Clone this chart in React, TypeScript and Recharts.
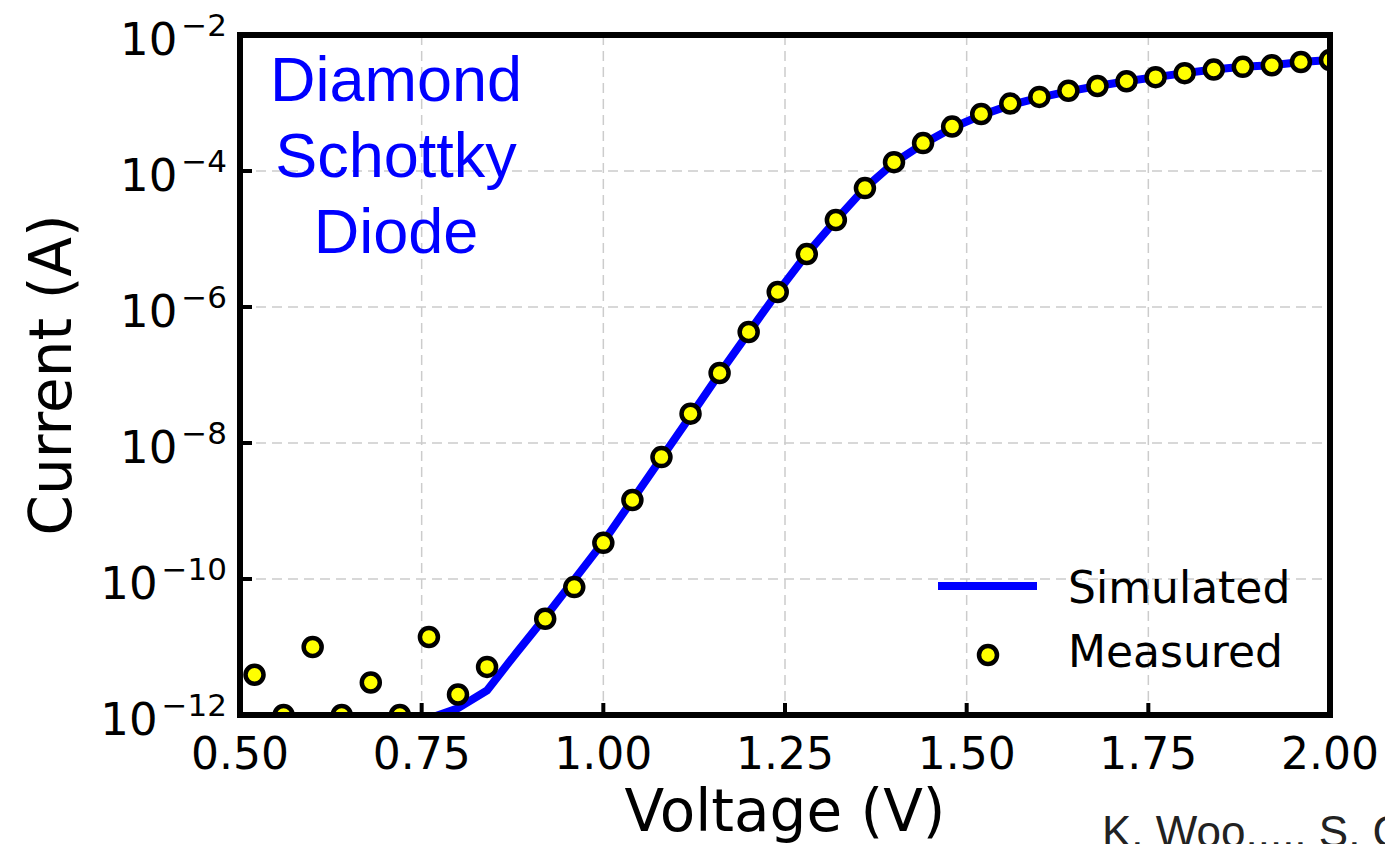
import React from "react";
import { CartesianGrid, ComposedChart, Line, Scatter, XAxis, YAxis } from "recharts";

// voltage grid (V) shared by both series
const simVoltage = [
  0.52, 0.56, 0.6, 0.64, 0.68, 0.72, 0.76, 0.8, 0.84, 0.88, 0.92, 0.96, 1.0, 1.04, 1.08, 1.12, 1.16, 1.2, 1.24,
  1.28, 1.32, 1.36, 1.4, 1.44, 1.48, 1.52, 1.56, 1.6, 1.64, 1.68, 1.72, 1.76, 1.8, 1.84, 1.88, 1.92, 1.96, 2.0,
];
const simCurrent = [
  2.5e-14, 5e-14, 1e-13, 2e-13, 3.5e-13, 5.6e-13, 8.9e-13, 1.26e-12, 2.3e-12, 8.1e-12, 2.75e-11, 9.8e-11, 3.5e-10,
  1.45e-9, 6.0e-9, 2.5e-8, 1.05e-7, 4.2e-7, 1.66e-6, 6.0e-6, 1.9e-5, 5.6e-5, 1.32e-4, 2.5e-4, 4.3e-4, 6.6e-4, 9.3e-4,
  1.2e-3, 1.48e-3, 1.78e-3, 2.09e-3, 2.4e-3, 2.75e-3, 3.1e-3, 3.4e-3, 3.6e-3, 4.0e-3, 4.3e-3,
];

// measured points (the 0.88 V point is absent in the figure)
const measVoltage = [
  0.52, 0.56, 0.6, 0.64, 0.68, 0.72, 0.76, 0.8, 0.84, 0.92, 0.96, 1.0, 1.04, 1.08, 1.12, 1.16, 1.2, 1.24, 1.28,
  1.32, 1.36, 1.4, 1.44, 1.48, 1.52, 1.56, 1.6, 1.64, 1.68, 1.72, 1.76, 1.8, 1.84, 1.88, 1.92, 1.96, 2.0,
];
const measCurrent = [
  3.9e-12, 1.0e-12, 1.0e-11, 1.0e-12, 3.0e-12, 1.0e-12, 1.4e-11, 2.0e-12, 5.1e-12, 2.6e-11, 7.6e-11, 3.4e-10,
  1.45e-9, 6.2e-9, 2.7e-8, 1.07e-7, 4.3e-7, 1.66e-6, 6.0e-6, 1.9e-5, 5.6e-5, 1.35e-4, 2.57e-4, 4.5e-4, 6.9e-4,
  9.8e-4, 1.23e-3, 1.51e-3, 1.78e-3, 2.09e-3, 2.4e-3, 2.75e-3, 3.1e-3, 3.4e-3, 3.6e-3, 4.0e-3, 4.3e-3,
];

const xTicks = [0.5, 0.75, 1.0, 1.25, 1.5, 1.75, 2.0];
const yTicks = [1e-12, 1e-10, 1e-8, 1e-6, 1e-4, 1e-2];

const simulated = simVoltage.map((v, k) => ({ v, i: simCurrent[k] }));
const measured = measVoltage.map((v, k) => ({ v, i: measCurrent[k] }));

const FONT = "'DejaVu Sans', sans-serif";

const XTick = (props: any) => {
  const { x, y, payload } = props;
  return (
    <g>
      <line x1={x} y1={y} x2={x} y2={y - 12} stroke="#000" strokeWidth={4} />
      <text x={x} y={y + 54} textAnchor="middle" fontSize={44} fontFamily={FONT} fill="#000">
        {Number(payload.value).toFixed(2)}
      </text>
    </g>
  );
};

const YTick = (props: any) => {
  const { x, y, payload } = props;
  const exp = Math.round(Math.log10(payload.value));
  return (
    <g>
      <line x1={x} y1={y} x2={x + 12} y2={y} stroke="#000" strokeWidth={4} />
      <text x={x - 13} y={y + 20} textAnchor="end" fontSize={45} fontFamily={FONT} fill="#000">
        10
        <tspan dy={-19} dx={4} fontSize={31}>{`\u2212${-exp}`}</tspan>
      </text>
    </g>
  );
};

const Marker = (props: any) => (
  <circle cx={props.cx} cy={props.cy} r={9} fill="#ffff00" stroke="#000" strokeWidth={4.5} />
);

export default function App() {
  return (
    <div style={{ position: "absolute", left: 0, top: 0, width: 1385, height: 844, overflow: "hidden", background: "#fff" }}>
      <ComposedChart width={1385} height={844} margin={{ top: 35, right: 55, bottom: 0, left: 0 }}>
        <CartesianGrid stroke="#cccccc" strokeWidth={1.5} strokeDasharray="10 6" />
        <XAxis
          type="number"
          dataKey="v"
          domain={[0.5, 2.0]}
          ticks={xTicks}
          interval={0}
          allowDataOverflow
          height={129}
          tickSize={0}
          tickMargin={0}
          axisLine={false}
          tickLine={false}
          tick={<XTick />}
        />
        <YAxis
          type="number"
          dataKey="i"
          scale="log"
          domain={[1e-12, 1e-2]}
          ticks={yTicks}
          interval={0}
          allowDataOverflow
          width={240}
          tickSize={0}
          tickMargin={0}
          axisLine={false}
          tickLine={false}
          tick={<YTick />}
        />
        <Line
          data={simulated}
          dataKey="i"
          type="linear"
          stroke="#0000ff"
          strokeWidth={8}
          dot={false}
          activeDot={false}
          isAnimationActive={false}
        />
        <Scatter data={measured} dataKey="i" shape={<Marker />} isAnimationActive={false} />
      </ComposedChart>

      <svg
        width={1385}
        height={844}
        style={{ position: "absolute", left: 0, top: 0, pointerEvents: "none" }}
      >
        <rect x={240} y={35} width={1090} height={680} fill="none" stroke="#000" strokeWidth={6} />

        <text fontFamily="'Liberation Sans', Arial, sans-serif" fontSize={63} fill="#0000ff" textAnchor="middle">
          <tspan x={396} y={101}>Diamond</tspan>
          <tspan x={396} y={177}>Schottky</tspan>
          <tspan x={396} y={253}>Diode</tspan>
        </text>

        <line x1={938} y1={586} x2={1037} y2={586} stroke="#0000ff" strokeWidth={8} />
        <text x={1068} y={603} fontSize={44} fontFamily={FONT} fill="#000">Simulated</text>
        <circle cx={988} cy={655} r={9} fill="#ffff00" stroke="#000" strokeWidth={4.5} />
        <text x={1068} y={667} fontSize={44} fontFamily={FONT} fill="#000">Measured</text>

        <text x={785} y={831} textAnchor="middle" fontSize={58} fontFamily={FONT} fill="#000">Voltage (V)</text>
        <text
          transform="translate(71 375) rotate(-90)"
          textAnchor="middle"
          fontSize={58}
          fontFamily={FONT}
          fill="#000"
        >
          Current (A)
        </text>

        <text x={1102} y={847} fontSize={44} fontFamily="'Liberation Sans', Arial, sans-serif" fill="#222">
          K. Woo...., S. C
        </text>
      </svg>
    </div>
  );
}
